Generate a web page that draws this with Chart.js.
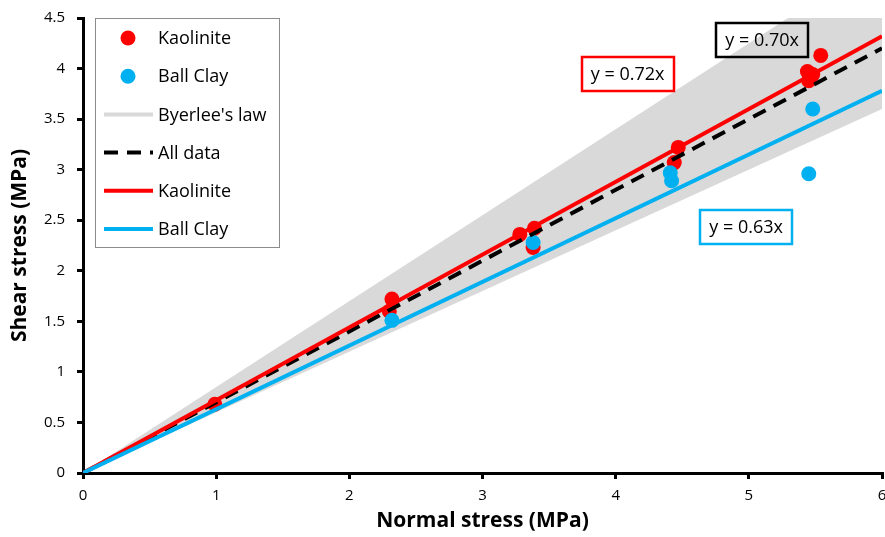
<!DOCTYPE html>
<html>
<head>
<meta charset="utf-8">
<script src="https://cdn.jsdelivr.net/npm/chart.js@4.4.1/dist/chart.umd.min.js"></script>
<style>
    html, body { margin: 0; padding: 0; background: #fff; }
    #wrap { width: 885px; height: 537px; }
</style>
</head>
<body>
<div id="wrap"><canvas id="canvas1"></canvas></div>
<script>
// measured points
let kaoliniteX = [0.99, 2.32, 2.30, 3.28, 3.39, 3.38, 4.47, 4.44, 5.44, 5.48, 5.45, 5.54];
let kaoliniteY = [0.68, 1.72, 1.60, 2.36, 2.42, 2.23, 3.22, 3.07, 3.97, 3.94, 3.88, 4.13];
let ballClayX = [2.32, 3.38, 4.41, 4.42, 5.48, 5.45];
let ballClayY = [1.51, 2.28, 2.97, 2.89, 3.60, 2.96];

// fitted lines and Byerlee band (end points)
let lineX = [0, 6];
let kaoliniteFit = [0, 4.32];
let allDataFit = [0, 4.20];
let ballClayFit = [0, 3.78];
let byerleeUpper = [0, 5.10];
let byerleeLower = [0, 3.60];

let xTicks = [0, 1, 2, 3, 4, 5, 6];
let yTicks = [0, 0.5, 1, 1.5, 2, 2.5, 3, 3.5, 4, 4.5];

// equation labels: text, colour, centre (data coords)
let eqText = ['y = 0.72x', 'y = 0.70x', 'y = 0.63x'];
let eqColor = ['#ff0000', '#000000', '#00b0f0'];
let eqX = [4.09, 5.10, 4.98];
let eqY = [3.95, 4.28, 2.43];

const FONT = '"Open Sans", sans-serif';

function pts(xs, ys) {
    return xs.map((x, i) => ({x: x, y: ys[i]}));
}

let datasets = [
    {
        label: 'Ball Clay', type: 'line', order: 1,
        data: pts(lineX, ballClayFit),
        borderColor: '#00b0f0', borderWidth: 4, pointRadius: 0, fill: false
    },
    {
        label: 'Kaolinite', type: 'line', order: 2,
        data: pts(lineX, kaoliniteFit),
        borderColor: '#ff0000', borderWidth: 4, pointRadius: 0, fill: false
    },
    {
        label: 'All data', type: 'line', order: 3,
        data: pts(lineX, allDataFit),
        borderColor: '#000000', borderWidth: 4, borderDash: [14, 9], pointRadius: 0, fill: false
    },
    {
        label: 'Ball Clay', type: 'scatter', order: 4,
        data: pts(ballClayX, ballClayY),
        backgroundColor: '#00b0f0', borderWidth: 0, pointRadius: 7.5
    },
    {
        label: 'Kaolinite', type: 'scatter', order: 5,
        data: pts(kaoliniteX, kaoliniteY),
        backgroundColor: '#ff0000', borderWidth: 0, pointRadius: 7.5
    },
    {
        label: "Byerlee's law", type: 'line', order: 6,
        data: pts(lineX, byerleeUpper),
        borderWidth: 0, pointRadius: 0, backgroundColor: '#d9d9d9', fill: '+1'
    },
    {
        label: 'byerlee-low', type: 'line', order: 7,
        data: pts(lineX, byerleeLower),
        borderWidth: 0, pointRadius: 0, fill: false
    }
];

// legend entries in the order of the picture
let legendItems = [
    {text: 'Kaolinite', kind: 'dot', color: '#ff0000'},
    {text: 'Ball Clay', kind: 'dot', color: '#00b0f0'},
    {text: "Byerlee's law", kind: 'line', color: '#d9d9d9'},
    {text: 'All data', kind: 'dash', color: '#000000'},
    {text: 'Kaolinite', kind: 'line', color: '#ff0000'},
    {text: 'Ball Clay', kind: 'line', color: '#00b0f0'}
];

let overlay = {
    id: 'overlay',
    afterDatasetsDraw(chart) {
        let ctx = chart.ctx;
        let xs = chart.scales.x, ys = chart.scales.y;
        ctx.save();

        // equation boxes
        ctx.font = '18px ' + FONT;
        ctx.textBaseline = 'middle';
        ctx.textAlign = 'center';
        eqText.forEach((t, i) => {
            let cx = xs.getPixelForValue(eqX[i]);
            let cy = ys.getPixelForValue(eqY[i]);
            let w = Math.round(ctx.measureText(t).width + 18);
            let h = 34;
            ctx.strokeStyle = eqColor[i];
            ctx.lineWidth = 2.5;
            ctx.strokeRect(Math.round(cx - w / 2), Math.round(cy - h / 2), w, h);
            ctx.fillStyle = '#000';
            ctx.fillText(t, cx, cy + 1);
        });

        // legend
        let left = chart.chartArea.left + 12, top = chart.chartArea.top;
        ctx.fillStyle = '#fff';
        ctx.fillRect(left, top, 184, 229);
        ctx.strokeStyle = '#8c8c8c';
        ctx.lineWidth = 1;
        ctx.strokeRect(left + 0.5, top + 0.5, 184, 229);
        ctx.font = '18px ' + FONT;
        ctx.textAlign = 'left';
        legendItems.forEach((it, i) => {
            let y = top + 20 + i * 38.2;
            if (it.kind === 'dot') {
                ctx.fillStyle = it.color;
                ctx.beginPath();
                ctx.arc(left + 33, y, 7.5, 0, Math.PI * 2);
                ctx.fill();
            } else {
                ctx.strokeStyle = it.color;
                ctx.lineWidth = 4;
                ctx.setLineDash(it.kind === 'dash' ? [14, 9] : []);
                ctx.beginPath();
                ctx.moveTo(left + 9, y);
                ctx.lineTo(left + 58, y);
                ctx.stroke();
                ctx.setLineDash([]);
            }
            ctx.fillStyle = '#000';
            ctx.fillText(it.text, left + 63, y + 1);
        });
        ctx.restore();
    }
};

let config = {
    type: 'scatter',
    data: {datasets: datasets},
    options: {
        responsive: true,
        maintainAspectRatio: false,
        animation: false,
        layout: {autoPadding: false, padding: {top: 18, right: 3, left: 0, bottom: 0}},
        plugins: {
            legend: {display: false},
            tooltip: {enabled: false}
        },
        scales: {
            x: {
                type: 'linear', min: 0, max: 6,
                afterBuildTicks: s => { s.ticks = xTicks.map(v => ({value: v})); },
                afterFit: s => { s.height = 64; s.paddingLeft = 0; s.paddingRight = 0; },
                ticks: {color: '#000', font: {family: FONT, size: 15}, padding: 8, callback: v => String(v)},
                grid: {drawOnChartArea: false, drawTicks: true, tickLength: 6, color: '#000', lineWidth: 3},
                border: {color: '#000', width: 3},
                title: {display: true, text: 'Normal stress (MPa)', color: '#000',
                        font: {family: FONT, size: 21, weight: 'bold'}, padding: {top: 4, bottom: 3}}
            },
            y: {
                type: 'linear', min: 0, max: 4.5,
                afterBuildTicks: s => { s.ticks = yTicks.map(v => ({value: v})); },
                afterFit: s => { s.width = 83; s.paddingTop = 0; s.paddingBottom = 0; },
                ticks: {color: '#000', font: {family: FONT, size: 15}, padding: 12, callback: v => String(v)},
                grid: {drawOnChartArea: false, drawTicks: true, tickLength: 6, color: '#000', lineWidth: 3},
                border: {color: '#000', width: 3},
                title: {display: true, text: 'Shear stress (MPa)', color: '#000',
                        font: {family: FONT, size: 21, weight: 'bold'}, padding: {top: 7, bottom: 4}}
            }
        }
    },
    plugins: [overlay]
};

let myChart = new Chart(document.getElementById('canvas1'), config);
</script>
</body>
</html>
